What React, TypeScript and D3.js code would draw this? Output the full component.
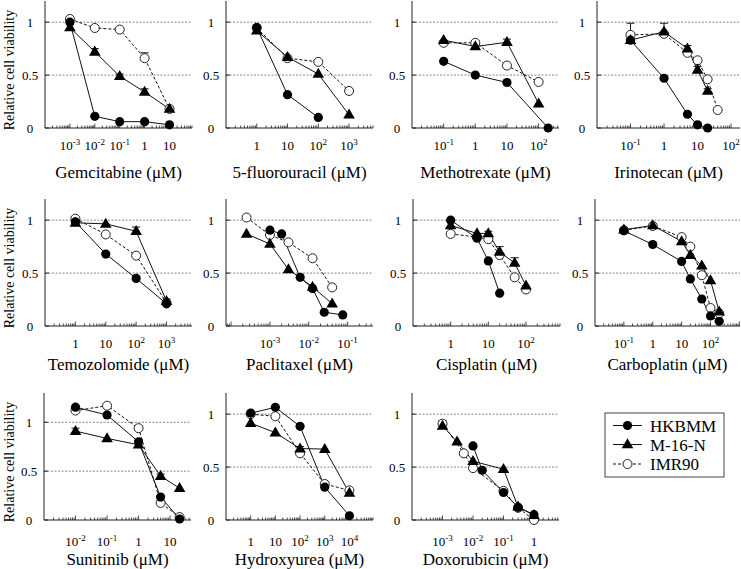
import React from "react";
import * as d3 from "d3";

const drugs = [
  "Gemcitabine", "5-fluorouracil", "Methotrexate", "Irinotecan",
  "Temozolomide", "Paclitaxel", "Cisplatin", "Carboplatin",
  "Sunitinib", "Hydroxyurea", "Doxorubicin",
];
const xDomains: [number, number][] = [
  [1e-4, 80], [0.1, 6000], [0.01, 440], [0.01, 185],
  [0.1, 6900], [7.4e-5, 0.45], [0.1, 800], [0.01, 1050],
  [1e-3, 46], [0.1, 9e4], [1e-4, 6.6],
];
const yMaxes = [1.2, 1.2, 1.2, 1.2, 1.2, 1.2, 1.2, 1.2, 1.3, 1.2, 1.2];
const yTicks = [0, 0.5, 1];
const xTickExps = [
  [-3, -2, -1, 0, 1], [0, 1, 2, 3], [-1, 0, 1, 2], [-1, 0, 1, 2],
  [0, 1, 2, 3], [-3, -2, -1], [0, 1, 2], [-1, 0, 1, 2],
  [-2, -1, 0, 1], [0, 1, 2, 3, 4], [-3, -2, -1, 0],
];
const seriesNames = ["HKBMM", "M-16-N", "IMR90"];

// [dose, viability, upper error]
const hkbmm: number[][][] = [
  [[1e-3, 1.0], [1e-2, 0.11], [1e-1, 0.06], [1, 0.06], [10, 0.03]],
  [[1, 0.95], [10, 0.315], [100, 0.1]],
  [[0.1, 0.63], [1, 0.5], [10, 0.43], [200, 0.0]],
  [[0.1, 0.83], [1, 0.47], [5, 0.13], [10, 0.03], [20, 0.0]],
  [[1, 0.985], [10, 0.68, 0.01], [100, 0.45], [1000, 0.21]],
  [[1e-3, 0.905], [2e-3, 0.87], [6e-3, 0.46], [1.25e-2, 0.355], [2.5e-2, 0.13], [7.5e-2, 0.105]],
  [[1, 1.0], [5, 0.83], [10, 0.615], [20, 0.31]],
  [[0.1, 0.9], [1, 0.77], [10, 0.61], [20, 0.445], [50, 0.255], [100, 0.095], [200, 0.045]],
  [[0.01, 1.155, 0.02], [0.1, 1.075], [1, 0.8, 0.02], [5, 0.235], [20, 0.01]],
  [[1, 1.01], [10, 1.065], [100, 0.885], [1000, 0.31], [1e4, 0.04]],
  [[0.01, 0.7], [0.02, 0.47], [0.1, 0.26], [0.3, 0.12], [1, 0.05]],
];
const m16n: number[][][] = [
  [[1e-3, 0.95], [1e-2, 0.72, 0.03], [1e-1, 0.49, 0.02], [1, 0.34, 0.03], [10, 0.18, 0.02]],
  [[1, 0.92], [10, 0.67], [100, 0.51], [1000, 0.125]],
  [[0.1, 0.83], [1, 0.77, 0.02], [10, 0.81, 0.03], [100, 0.23]],
  [[0.1, 0.83], [1, 0.91, 0.08], [5, 0.75, 0.03], [10, 0.55, 0.03], [20, 0.35, 0.02]],
  [[1, 0.975], [10, 0.965], [100, 0.895, 0.04], [1000, 0.235, 0.02]],
  [[2.5e-4, 0.87], [1e-3, 0.775], [3e-3, 0.535], [1.25e-2, 0.37], [4e-2, 0.21]],
  [[1, 0.95], [5, 0.875], [10, 0.875, 0.02], [20, 0.7, 0.05], [50, 0.595, 0.05], [100, 0.38]],
  [[0.1, 0.91], [1, 0.95], [10, 0.8], [20, 0.67], [50, 0.57], [100, 0.43], [200, 0.135]],
  [[0.01, 0.91, 0.03], [0.1, 0.835], [1, 0.77], [5, 0.45, 0.02], [20, 0.325]],
  [[1, 0.915], [10, 0.825], [100, 0.675, 0.02], [1000, 0.67], [1e4, 0.255, 0.02]],
  [[1e-3, 0.89, 0.05], [3e-3, 0.74], [1e-2, 0.555], [0.1, 0.48], [0.3, 0.125], [1, 0.045]],
];
const imr90: number[][][] = [
  [[1e-3, 1.03], [1e-2, 0.945], [1e-1, 0.93], [1, 0.66, 0.05], [10, 0.18]],
  [[1, 0.945], [10, 0.66], [100, 0.625], [1000, 0.35]],
  [[0.1, 0.805], [1, 0.805], [10, 0.59], [100, 0.435]],
  [[0.1, 0.88, 0.11], [1, 0.89], [5, 0.71], [10, 0.64, 0.02], [20, 0.46, 0.02], [40, 0.17]],
  [[1, 1.015], [10, 0.865], [100, 0.665], [1000, 0.22]],
  [[2.5e-4, 1.025], [1e-3, 0.86], [3e-3, 0.79], [1.25e-2, 0.64], [4e-2, 0.365]],
  [[1, 0.87], [5, 0.84], [10, 0.82], [20, 0.67], [50, 0.46], [100, 0.345]],
  [[0.1, 0.905], [1, 0.945], [10, 0.84], [20, 0.75], [50, 0.48], [100, 0.17], [200, 0.12]],
  [[0.01, 1.12], [0.1, 1.17], [1, 0.94, 0.02], [5, 0.175], [20, 0.03]],
  [[1, 1.0], [10, 0.98], [100, 0.63], [1000, 0.34], [1e4, 0.28]],
  [[1e-3, 0.91], [5e-3, 0.63], [1e-2, 0.49], [0.1, 0.275], [0.3, 0.115], [1, 0.0]],
];

// layout
const panelX0 = [45, 226, 412, 597, 45, 226, 413, 595, 44, 226, 412];
const panelW = [147, 147, 147, 143, 147, 147, 147, 145, 147, 147, 147];
const rowZero = [128, 326, 520];
const rowTickOff = [22, 22, 26];
const rowTitleOff = [50, 44, 45];
const PLOT_H = 127;
const FONT = "Liberation Serif, DejaVu Serif, serif";
const tStyle = { fontFamily: FONT };

const triPath = d3.symbol().type(d3.symbolTriangle).size(58)() as string;

function Marker({ kind, x, y }: { kind: number; x: number; y: number }) {
  if (kind === 0) return <circle cx={x} cy={y} r={4.6} fill="#000" />;
  if (kind === 1) return <path d={triPath} transform={`translate(${x},${y + 0.5})`} fill="#000" />;
  return <circle cx={x} cy={y} r={4.5} fill="#fff" stroke="#222" strokeWidth={1} />;
}

function Panel({ i }: { i: number }) {
  const row = Math.floor(i / 4);
  const col = i % 4;
  const x0 = panelX0[i];
  const W = panelW[i];
  const y0 = rowZero[row];
  const x = d3.scaleLog().domain(xDomains[i]).range([x0, x0 + W]);
  const y = d3.scaleLinear().domain([0, yMaxes[i]]).range([y0, y0 - PLOT_H]);
  const [dmin, dmax] = xDomains[i];
  const minor: { v: number; major: boolean }[] = [];
  for (let e = Math.floor(Math.log10(dmin)); e <= Math.ceil(Math.log10(dmax)); e++) {
    for (let k = 1; k <= 9; k++) {
      const v = k * Math.pow(10, e);
      if (v >= dmin * 1.0001 && v <= dmax) minor.push({ v, major: k === 1 });
    }
  }
  const line = d3
    .line<number[]>()
    .x((d) => x(d[0]))
    .y((d) => y(d[1]));
  const all = [imr90[i], m16n[i], hkbmm[i]];
  const kinds = [2, 1, 0];
  return (
    <g>
      {yTicks.filter((t) => t > 0).map((t) => (
        <line key={t} x1={x0} x2={x0 + W} y1={y(t)} y2={y(t)} stroke="#888" strokeWidth={1} strokeDasharray="2,1.5" />
      ))}
      <line x1={x0} x2={x0} y1={y0} y2={y0 - PLOT_H} stroke="#222" strokeWidth={1} />
      <line x1={x0} x2={x0 + W} y1={y0} y2={y0} stroke="#222" strokeWidth={1} />
      {minor.map((m, j) => (
        <line key={j} x1={x(m.v)} x2={x(m.v)} y1={y0} y2={y0 - (m.major ? 4.5 : 2.5)} stroke="#222" strokeWidth={0.8} />
      ))}
      {yTicks.map((t) => (
        <g key={t}>
          <line x1={x0} x2={x0 + 4} y1={y(t)} y2={y(t)} stroke="#222" strokeWidth={1} />
          <text x={x0 - 15} y={y(t) + 4.5} fontSize={13} textAnchor="middle" style={tStyle}>
            {String(t)}
          </text>
        </g>
      ))}
      {xTickExps[i].map((e) => (
        <text key={e} x={x(Math.pow(10, e))} y={y0 + rowTickOff[row]} fontSize={13} textAnchor="middle" style={tStyle}>
          {e === 0 ? "1" : e === 1 ? "10" : (
            <>
              <tspan>10</tspan>
              <tspan dy={-5} fontSize={9}>{String(e)}</tspan>
            </>
          )}
        </text>
      ))}
      <text x={x0 + W / 2} y={y0 + rowTitleOff[row]} fontSize={17} textAnchor="middle" style={tStyle}>
        {drugs[i]} (μM)
      </text>
      {col === 0 && (
        <text
          transform={`translate(14,${y0 - 58}) rotate(-90)`}
          fontSize={14}
          textAnchor="middle"
          style={tStyle}
        >
          Relative cell viability
        </text>
      )}
      {all.map((s, si) => (
        <path
          key={"l" + si}
          d={line(s) || ""}
          fill="none"
          stroke="#111"
          strokeWidth={1}
          strokeDasharray={kinds[si] === 2 ? "3,2" : undefined}
        />
      ))}
      {all.map((s, si) =>
        s.filter((d) => d[2]).map((d, j) => (
          <g key={"e" + si + "-" + j}>
            <line x1={x(d[0])} x2={x(d[0])} y1={y(d[1])} y2={y(d[1] + d[2])} stroke="#111" strokeWidth={1} />
            <line x1={x(d[0]) - 4} x2={x(d[0]) + 4} y1={y(d[1] + d[2])} y2={y(d[1] + d[2])} stroke="#111" strokeWidth={1} />
          </g>
        ))
      )}
      {all.map((s, si) =>
        s.map((d, j) => <Marker key={"m" + si + "-" + j} kind={kinds[si]} x={x(d[0])} y={y(d[1])} />)
      )}
    </g>
  );
}

function Legend() {
  const lx = 605, ly = 413, lw = 119, lh = 64;
  const rows = [425.5, 444.5, 464];
  return (
    <g>
      <rect x={lx} y={ly} width={lw} height={lh} fill="#fff" stroke="#444" strokeWidth={1} />
      {seriesNames.map((n, k) => (
        <g key={n}>
          <line x1={613} x2={642} y1={rows[k]} y2={rows[k]} stroke="#111" strokeWidth={1} strokeDasharray={k === 2 ? "3,2" : undefined} />
          <Marker kind={k} x={627.5} y={rows[k]} />
          <text x={650} y={rows[k] + 6} fontSize={17} style={tStyle}>
            {n}
          </text>
        </g>
      ))}
    </g>
  );
}

export default function App() {
  return (
    <svg
      width={741}
      height={569}
      style={{ position: "absolute", left: 0, top: 0, background: "#fff", fontFamily: FONT }}
    >
      <rect width={741} height={569} fill="#fff" />
      {drugs.map((_, i) => (
        <Panel key={i} i={i} />
      ))}
      <Legend />
    </svg>
  );
}
